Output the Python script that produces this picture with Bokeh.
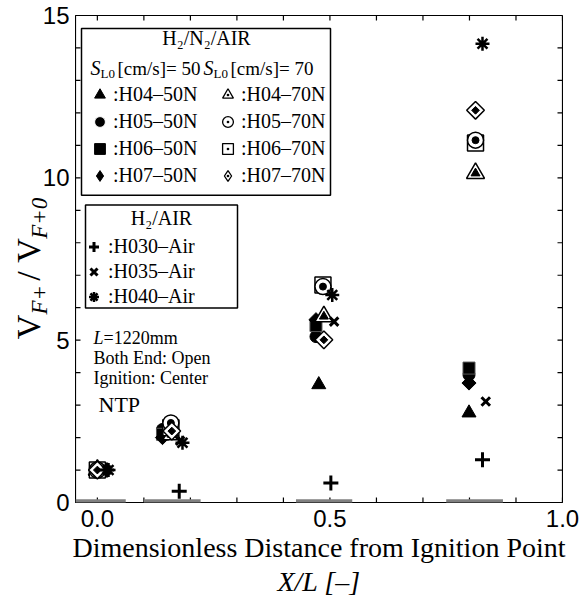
import numpy as np
from bokeh.plotting import figure
from bokeh.models import (Range1d, LinearAxis, FixedTicker, Label, Legend, LegendItem,
                          BoxAnnotation, PrintfTickFormatter)
from bokeh.embed import file_html
from bokeh.resources import INLINE

# ---------------- data ----------------
x_h04_50n = [0.0, 0.145, 0.476, 0.799]
y_h04_50n = [1.0, 2.10, 3.63, 2.76]
x_h05_50n = [0.0, 0.140, 0.470, 0.799]
y_h05_50n = [1.0, 2.25, 5.11, 3.93]
x_h06_50n = [0.0, 0.140, 0.470, 0.799]
y_h06_50n = [1.0, 2.10, 5.45, 4.14]
x_h07_50n = [0.0, 0.140, 0.470, 0.799]
y_h07_50n = [1.0, 2.00, 5.63, 3.68]

x_h04_70n = [0.0, 0.160, 0.487, 0.813]
y_h04_70n = [1.0, 2.09, 5.73, 10.14]
x_h05_70n = [0.0, 0.158, 0.485, 0.813]
y_h05_70n = [1.0, 2.45, 6.65, 11.16]
x_h06_70n = [0.0, 0.158, 0.485, 0.813]
y_h06_70n = [1.0, 2.30, 6.70, 11.07]
x_h07_70n = [0.0, 0.160, 0.487, 0.813]
y_h07_70n = [1.0, 2.20, 5.01, 12.08]

x_h030_air = [0.020, 0.176, 0.502, 0.828]
y_h030_air = [1.0, 0.35, 0.60, 1.32]
x_h035_air = [0.020, 0.178, 0.509, 0.835]
y_h035_air = [1.0, 1.90, 5.57, 3.11]
x_h040_air = [0.024, 0.183, 0.505, 0.828]
y_h040_air = [1.0, 1.84, 6.39, 14.13]

# measurement sections (gray bars on the axis)
section_start = [-0.047, 0.100, 0.427, 0.750]
section_end = [0.061, 0.222, 0.548, 0.872]

x_major = [0.0, 0.5, 1.0]
x_minor = [round(0.1 * i, 1) for i in range(0, 11)]
y_major = [0, 5, 10, 15]
y_minor = list(range(0, 16))

# ---------------- layout ----------------
W, H = 579, 599
FL, FR, FT, FB = 75, 562, 15, 503
X0, X1 = -0.047, 1.0
Y0, Y1 = 0.0, 15.0
SERIF = "Liberation Serif"
SANS = "Liberation Sans"
TICK_PX = 5
NB = "\u00a0"  # non-collapsing space used to place the subscripts


def dx(px):
    return X0 + (px - FL) * (X1 - X0) / (FR - FL)


def dy(py):
    return Y0 + (FB - py) * (Y1 - Y0) / (FB - FT)


p = figure(width=W, height=H, x_range=Range1d(X0, X1), y_range=Range1d(Y0, Y1),
           output_backend="svg", toolbar_location=None,
           x_axis_type=None, y_axis_type=None,
           min_border_left=FL, min_border_right=W - FR,
           min_border_top=FT, min_border_bottom=H - FB)
p.xgrid.visible = False
p.ygrid.visible = False
p.outline_line_color = "black"
p.background_fill_color = "white"
p.border_fill_color = "white"


def make_axis(ticks, minor):
    ax = LinearAxis(ticker=FixedTicker(ticks=ticks, minor_ticks=minor))
    ax.major_tick_in = 0
    ax.major_tick_out = 0
    ax.minor_tick_in = 0
    ax.minor_tick_out = 0
    ax.axis_line_color = "black"
    ax.major_label_text_font = SANS
    ax.major_label_text_font_size = "24px"
    ax.major_label_text_color = "black"
    return ax


def blank_axis(label, size, style, standoff, orientation="parallel"):
    return LinearAxis(ticker=FixedTicker(ticks=[]), axis_line_alpha=0,
                      major_tick_line_alpha=0, minor_tick_line_alpha=0,
                      major_tick_in=0, major_tick_out=0, minor_tick_in=0, minor_tick_out=0,
                      major_label_text_font_size="0px", major_label_standoff=0,
                      axis_label=label, axis_label_text_font=SERIF,
                      axis_label_text_font_size=size, axis_label_text_font_style=style,
                      axis_label_text_color="black", axis_label_standoff=standoff,
                      axis_label_orientation=orientation)


# bottom axis: tick labels + first title line
bx = make_axis(x_major, x_minor)
bx.formatter = PrintfTickFormatter(format="%.1f")
bx.major_label_standoff = 7
bx.axis_label = "Dimensionless Distance from Ignition Point"
bx.axis_label_text_font = SERIF
bx.axis_label_text_font_size = "28px"
bx.axis_label_text_font_style = "normal"
bx.axis_label_text_color = "black"
bx.axis_label_standoff = 2
p.add_layout(bx, "below")
p.add_layout(blank_axis("X/L [–]", "28px", "italic", 0), "below")

# left axis: tick labels + subscript part of the title
ly = make_axis(y_major, y_minor)
ly.major_label_standoff = 6
ly.axis_label = NB * 4 + "F+" + NB * 8 + "F+0" + NB * 3
ly.axis_label_text_font = SERIF
ly.axis_label_text_font_size = "23px"
ly.axis_label_text_font_style = "italic"
ly.axis_label_text_color = "black"
ly.axis_label_standoff = -12
ly.axis_label_orientation = "vertical"
p.add_layout(ly, "left")

# outer left axis: main part of the title
p.add_layout(blank_axis("V" + NB * 4 + "/" + NB + "V" + NB * 7, "34px", "normal", -23,
                        "vertical"), "left")

# inward tick marks on all four sides, at the tick values
ty = TICK_PX * (Y1 - Y0) / (FB - FT)
tx = TICK_PX * (X1 - X0) / (FR - FL)
tick_style = dict(line_color="black", line_width=1.2)
p.segment(x0=x_minor, y0=[Y0] * len(x_minor), x1=x_minor, y1=[Y0 + ty] * len(x_minor), **tick_style)
p.segment(x0=x_minor, y0=[Y1] * len(x_minor), x1=x_minor, y1=[Y1 - ty] * len(x_minor), **tick_style)
p.segment(x0=[X0] * len(y_minor), y0=y_minor, x1=[X0 + tx] * len(y_minor), y1=y_minor, **tick_style)
p.segment(x0=[X1] * len(y_minor), y0=y_minor, x1=[X1 - tx] * len(y_minor), y1=y_minor, **tick_style)

# frame border
p.add_layout(BoxAnnotation(left=X0, right=X1, bottom=Y0, top=Y1, fill_alpha=0,
                           line_color="black", line_alpha=1.0, line_width=1.2,
                           level="overlay"))

# gray measurement section bars on the x axis
for s0, s1 in zip(section_start, section_end):
    p.add_layout(BoxAnnotation(left=s0, right=s1, bottom=-0.1, top=0.1,
                               fill_color="#808080", fill_alpha=1.0,
                               line_alpha=0, level="overlay"))

D = np.pi / 4
# legend key renderers: drawn first, hidden under the real markers
k_h05_50n = p.scatter(x_h05_50n, y_h05_50n, marker="circle", size=4, fill_color="black",
                      line_color="white", line_width=1)
k_h06_50n = p.scatter(x_h06_50n, y_h06_50n, marker="square", size=4, fill_color="black",
                      line_color="black", line_width=1)
k_h07_50n = p.scatter(x_h07_50n, y_h07_50n, marker="diamond", size=4,
                      fill_color="black", line_color="black", line_width=1)
k_h04_70n = p.scatter(x_h04_70n, y_h04_70n, marker="triangle_dot", size=4,
                      fill_color="white", line_color="black", line_width=1.3)
k_h05_70n = p.scatter(x_h05_70n, y_h05_70n, marker="circle_dot", size=4,
                      fill_color="white", line_color="black", line_width=1.3)
k_h06_70n = p.scatter(x_h06_70n, y_h06_70n, marker="square_dot", size=4,
                      fill_color="white", line_color="black", line_width=1.3)
k_h07_70n = p.scatter(x_h07_70n, y_h07_70n, marker="diamond_dot", size=4,
                      fill_color="white", line_color="black", line_width=1.3)

# ---------------- data marks ----------------
r_h04_50n = p.scatter(x_h04_50n, y_h04_50n, marker="triangle", size=14,
                      fill_color="black", line_color="black")
r_h05_50n = p.scatter(x_h05_50n, y_h05_50n, marker="circle", size=12,
                      fill_color="black", line_color="black")
r_h06_50n = p.scatter(x_h06_50n, y_h06_50n, marker="square", size=12,
                      fill_color="black", line_color="#555555")
r_h07_50n = p.scatter(x_h07_50n, y_h07_50n, marker="square", angle=D, size=10,
                      fill_color="black", line_color="black")

p.scatter(x_h04_70n, y_h04_70n, marker="triangle", size=18, fill_color="white",
          line_color="black", line_width=1.5)
p.scatter(x_h04_70n, y_h04_70n, marker="triangle", size=9, fill_color="black",
          line_color="black")
p.scatter(x_h06_70n, y_h06_70n, marker="square", size=16, fill_color="white",
          line_color="black", line_width=1.5)
p.scatter(x_h06_70n, y_h06_70n, marker="square", size=7, fill_color="black",
          line_color="black")
p.scatter(x_h05_70n, y_h05_70n, marker="circle", size=16, fill_color="white",
          line_color="black", line_width=1.5)
p.scatter(x_h05_70n, y_h05_70n, marker="circle", size=7, fill_color="black",
          line_color="black")
p.scatter(x_h07_70n, y_h07_70n, marker="square", angle=D, size=12.5, fill_color="white",
          line_color="black", line_width=1.5)
p.scatter(x_h07_70n, y_h07_70n, marker="square", angle=D, size=5.5, fill_color="black",
          line_color="black")

r_h030_air = p.scatter(x_h030_air, y_h030_air, marker="cross", size=15,
                       line_color="black", line_width=3)
r_h035_air = p.scatter(x_h035_air, y_h035_air, marker="x", size=12,
                       line_color="black", line_width=3)
r_h040_air = p.scatter(x_h040_air, y_h040_air, marker="asterisk", size=14,
                       line_color="black", line_width=2.5)

# ---------------- legend boxes ----------------
p.add_layout(BoxAnnotation(left=dx(81), right=dx(330), top=dy(28), bottom=dy(195),
                           fill_color="white", fill_alpha=1.0, line_color="black",
                           line_alpha=1.0, line_width=1.5))
p.add_layout(BoxAnnotation(left=dx(85), right=dx(237), top=dy(205), bottom=dy(308),
                           fill_color="white", fill_alpha=1.0, line_color="black",
                           line_alpha=1.0, line_width=1.5))


def legend(items, loc, g, standoff):
    lg = Legend(items=items, location=loc, orientation="vertical",
                glyph_width=g, glyph_height=g, spacing=0, padding=0,
                label_standoff=standoff, label_height=18,
                label_text_font=SERIF, label_text_font_size="20px",
                label_text_color="black",
                border_line_alpha=0, background_fill_alpha=0)
    p.add_layout(lg)


legend([LegendItem(label=":H04–50N", renderers=[r_h04_50n]),
        LegendItem(label=":H05–50N", renderers=[k_h05_50n]),
        LegendItem(label=":H06–50N", renderers=[k_h06_50n]),
        LegendItem(label=":H07–50N", renderers=[k_h07_50n])],
       (86 - FL, FB - 190), 27, 0)
legend([LegendItem(label=":H04–70N", renderers=[k_h04_70n]),
        LegendItem(label=":H05–70N", renderers=[k_h05_70n]),
        LegendItem(label=":H06–70N", renderers=[k_h06_70n]),
        LegendItem(label=":H07–70N", renderers=[k_h07_70n])],
       (214 - FL, FB - 190), 27, 0)
legend([LegendItem(label=":H030–Air", renderers=[r_h030_air]),
        LegendItem(label=":H035–Air", renderers=[r_h035_air]),
        LegendItem(label=":H040–Air", renderers=[r_h040_air])],
       (81 - FL, FB - 310), 25, 2)


def txt(text, px, py, size, style="normal", align="left", baseline="middle"):
    p.add_layout(Label(x=dx(px), y=dy(py), text=text, text_font=SERIF,
                       text_font_size=f"{size}px", text_font_style=style,
                       text_align=align, text_baseline=baseline,
                       text_color="black"))


# legend headers
txt("H₂/N₂/AIR", 206, 38, 20, align="center")
for sx, val in ((90, "50"), (203, "70")):
    txt("S", sx, 68, 20, "italic")
    txt("L0", sx + 10, 73, 13)
    txt("[cm/s]= " + val, sx + 27, 68, 19)
txt("H₂/AIR", 161, 218, 20, align="center")

# conditions
txt("L", 93, 338, 18, "italic")
txt("=1220mm", 103, 338, 18)
txt("Both End: Open", 93, 358, 18)
txt("Ignition: Center", 93, 378, 18)
txt("NTP", 98, 405, 22)

open("out.html", "w").write(file_html(p, INLINE))
